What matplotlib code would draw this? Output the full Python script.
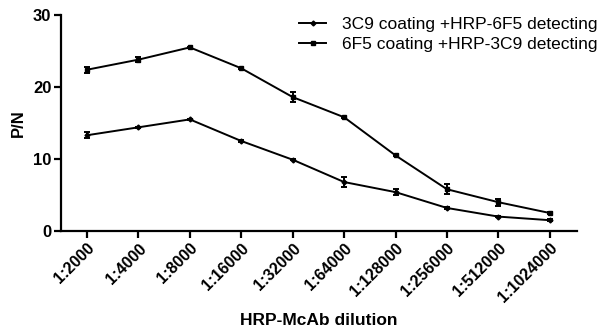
import matplotlib
matplotlib.use("Agg")
import matplotlib.pyplot as plt
from matplotlib.lines import Line2D
import numpy as np

plt.rcParams['font.family'] = ['Liberation Sans', 'DejaVu Sans']

categories = ["1:2000", "1:4000", "1:8000", "1:16000", "1:32000", "1:64000",
              "1:128000", "1:256000", "1:512000", "1:1024000"]
s1_name = "3C9 coating +HRP-6F5 detecting"
s1_vals = [13.3, 14.4, 15.5, 12.5, 9.9, 6.8, 5.4, 3.2, 2.0, 1.5]
s1_err = [0.4, 0.1, 0.1, 0.1, 0.1, 0.7, 0.4, 0.1, 0.1, 0.1]
s2_name = "6F5 coating +HRP-3C9 detecting"
s2_vals = [22.4, 23.8, 25.5, 22.6, 18.6, 15.8, 10.5, 5.8, 4.0, 2.5]
s2_err = [0.4, 0.3, 0.1, 0.1, 0.7, 0.1, 0.1, 0.7, 0.5, 0.1]

fig = plt.figure(figsize=(6.04, 3.29), dpi=100)
ax = fig.add_axes([61/604, 1-231/329, (577-61)/604, (231-15)/329])

x = np.arange(len(categories))
ax.errorbar(x, s1_vals, yerr=s1_err, color='black', lw=1.4, marker='D', ms=2.5,
            capsize=2.5, elinewidth=1.4, capthick=1.4)
ax.errorbar(x, s2_vals, yerr=s2_err, color='black', lw=1.4, marker='s', ms=3.2,
            capsize=2.5, elinewidth=1.4, capthick=1.4)

ax.set_xlim(-0.506, 9.53)
ax.set_ylim(0, 30)
ax.set_yticks([0, 10, 20, 30])
ax.set_xticks(x)
ax.set_xticklabels(categories, rotation=45, ha='right', va='top',
                   rotation_mode='anchor', fontweight='bold', fontsize=11.5)
for lab in ax.get_yticklabels():
    lab.set_fontweight('bold')
    lab.set_fontsize(12)
for s in ['top', 'right']:
    ax.spines[s].set_visible(False)
for s in ['left', 'bottom']:
    ax.spines[s].set_linewidth(1.6)
ax.tick_params(axis='both', width=1.6, length=5, pad=2)
ax.set_ylabel("P/N", fontweight='bold', fontsize=12, labelpad=5)
ax.set_xlabel("HRP-McAb dilution", fontweight='bold', fontsize=12.5, labelpad=5)

handles = [Line2D([], [], color='black', lw=1.4, marker='D', ms=2.5),
           Line2D([], [], color='black', lw=1.4, marker='s', ms=3.2)]
ax.legend(handles, [s1_name, s2_name], loc='upper right',
          bbox_to_anchor=(1.06, 1.04), frameon=False,
          fontsize=12.5, handlelength=1.6, handletextpad=0.9, labelspacing=0.3,
          borderaxespad=0.2)

fig.savefig("out.png", dpi=100)
